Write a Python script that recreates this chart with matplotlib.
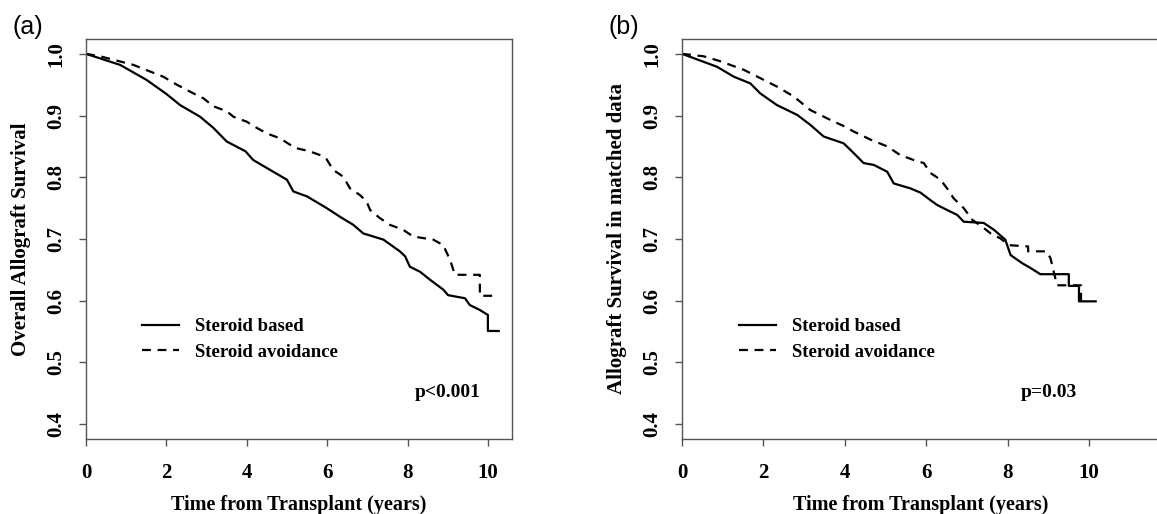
import matplotlib
matplotlib.use("Agg")
import matplotlib.pyplot as plt

# Kaplan-Meier curves (time in years, survival)
# repeated times mark the vertical drops of the step curve
# (a) overall cohort
a_based_t = [0, 0.85, 1.5, 2.0, 2.34, 2.84, 3.17, 3.5, 3.97, 4.16, 4.5, 5.0, 5.16, 5.5,
             5.99, 6.32, 6.65, 6.9, 7.4, 7.81, 7.94, 8.06, 8.31, 8.56, 8.89, 9.01, 9.43,
             9.55, 9.8, 10.0, 10.0, 10.27]
a_based_s = [1.0, 0.982, 0.958, 0.935, 0.917, 0.898, 0.880, 0.858, 0.842, 0.828, 0.815,
             0.796, 0.777, 0.769, 0.750, 0.736, 0.723, 0.709, 0.699, 0.680, 0.672, 0.655,
             0.647, 0.634, 0.618, 0.609, 0.604, 0.593, 0.585, 0.577, 0.551, 0.551]
a_avoid_t = [0, 0.35, 1.18, 1.92, 2.26, 2.67, 2.92, 3.17, 3.5, 3.67, 4.0, 4.25, 4.5, 4.83,
             5.07, 5.24, 5.57, 5.82, 5.99, 6.15, 6.4, 6.57, 6.82, 6.98, 7.07, 7.31, 7.56,
             7.89, 8.14, 8.64, 8.89, 9.06, 9.18, 9.8, 9.8, 10.13]
a_avoid_s = [1.0, 0.996, 0.982, 0.963, 0.950, 0.936, 0.928, 0.915, 0.907, 0.898, 0.890,
             0.880, 0.871, 0.863, 0.853, 0.847, 0.842, 0.836, 0.829, 0.812, 0.801, 0.782,
             0.771, 0.761, 0.747, 0.734, 0.723, 0.715, 0.704, 0.699, 0.690, 0.666, 0.642,
             0.642, 0.608, 0.608]

# (b) matched data
b_based_t = [0, 0.86, 1.27, 1.68, 1.92, 2.33, 2.83, 3.15, 3.48, 3.97, 4.22, 4.46, 4.71,
             5.04, 5.2, 5.61, 5.86, 6.1, 6.27, 6.51, 6.76, 6.92, 7.41, 7.66, 7.94, 8.07,
             8.35, 8.56, 8.8, 9.5, 9.5, 9.75, 9.75, 10.16]
b_based_s = [1.0, 0.979, 0.963, 0.952, 0.936, 0.917, 0.901, 0.885, 0.866, 0.855, 0.839,
             0.823, 0.820, 0.809, 0.790, 0.782, 0.775, 0.763, 0.755, 0.747, 0.739, 0.728,
             0.726, 0.715, 0.699, 0.674, 0.661, 0.653, 0.643, 0.643, 0.624, 0.624, 0.599,
             0.599]
b_avoid_t = [0, 0.53, 0.94, 1.52, 2.0, 2.33, 2.74, 3.15, 3.64, 3.97, 4.22, 4.63, 5.04,
             5.36, 5.69, 5.94, 6.1, 6.35, 6.51, 6.67, 6.92, 7.13, 7.37, 7.58, 7.82, 8.03,
             8.5, 8.5, 8.95, 9.05, 9.13, 9.21, 9.8, 9.8, 9.9]
b_avoid_s = [1.0, 0.996, 0.988, 0.974, 0.958, 0.947, 0.931, 0.909, 0.893, 0.883, 0.874,
             0.861, 0.850, 0.836, 0.828, 0.823, 0.807, 0.796, 0.782, 0.766, 0.750, 0.731,
             0.720, 0.709, 0.701, 0.690, 0.688, 0.680, 0.680, 0.669, 0.647, 0.625, 0.625,
             0.598, 0.598]

x_ticks = [0, 2, 4, 6, 8, 10]
y_ticks = [0.4, 0.5, 0.6, 0.7, 0.8, 0.9, 1.0]
legend_labels = ["Steroid based", "Steroid avoidance"]

serif = "Liberation Serif"
W, H = 1157, 514
fig = plt.figure(figsize=(W / 100, H / 100), dpi=100)

def px_axes(left, right, top, bottom):
    return fig.add_axes([left / W, 1 - bottom / H, (right - left) / W, (bottom - top) / H])

def style(ax, xmax, ylabel):
    ax.set_xlim(0, xmax)
    ax.set_ylim(0.376, 1.024)
    ax.set_xticks(x_ticks)
    ax.set_yticks(y_ticks)
    ax.set_yticklabels([f"{v:.1f}" for v in y_ticks])
    for s in ax.spines.values():
        s.set_color("#555555")
        s.set_linewidth(1.0)
    ax.tick_params(direction="out", length=5, width=1.0, color="#555555")
    ax.tick_params(axis="x", pad=12)
    ax.tick_params(axis="y", pad=9, labelrotation=90)
    for lab in ax.get_xticklabels() + ax.get_yticklabels():
        lab.set_fontfamily(serif)
        lab.set_fontweight("bold")
        lab.set_fontsize(15)
    for lab in ax.get_yticklabels():
        lab.set_verticalalignment("center")
    ax.set_xlabel("Time from Transplant (years)", fontfamily=serif, fontweight="bold",
                  fontsize=14.5, labelpad=9)
    ax.set_ylabel(ylabel, fontfamily=serif, fontweight="bold", fontsize=15, labelpad=11)

panels = [
    (px_axes(86, 512, 39, 439), 10.6, "Overall Allograft Survival",
     a_based_t, a_based_s, a_avoid_t, a_avoid_s, "p<0.001", "(a)", 13, 142),
    (px_axes(682, 1160, 39, 439), 11.74, "Allograft Survival in matched data",
     b_based_t, b_based_s, b_avoid_t, b_avoid_s, "p=0.03", "(b)", 608, 739),
]

for ax, xmax, ylabel, bt, bs, at, av, ptxt, tag, tag_x, leg_x in panels:
    l1, = ax.plot(bt, bs, color="black", lw=1.6)
    l2, = ax.plot(at, av, color="black", lw=1.6, dashes=(4, 3))
    style(ax, xmax, ylabel)
    ax.text(9.0, 0.451, ptxt, ha="center", va="center", fontfamily=serif,
            fontweight="bold", fontsize=14)
    ax.legend([l1, l2], legend_labels, loc="upper left",
              bbox_to_anchor=(leg_x / W, 1 - 318 / H), bbox_transform=fig.transFigure,
              frameon=False, borderpad=0, borderaxespad=0, handlelength=1.95,
              handletextpad=0.9, labelspacing=0.45,
              prop={"family": serif, "weight": "bold", "size": 13.5})
    fig.text(tag_x / W, 1 - 27 / H, tag, ha="left", va="center",
             fontfamily="Liberation Sans", fontsize=18)

fig.savefig("out.png", dpi=100)
